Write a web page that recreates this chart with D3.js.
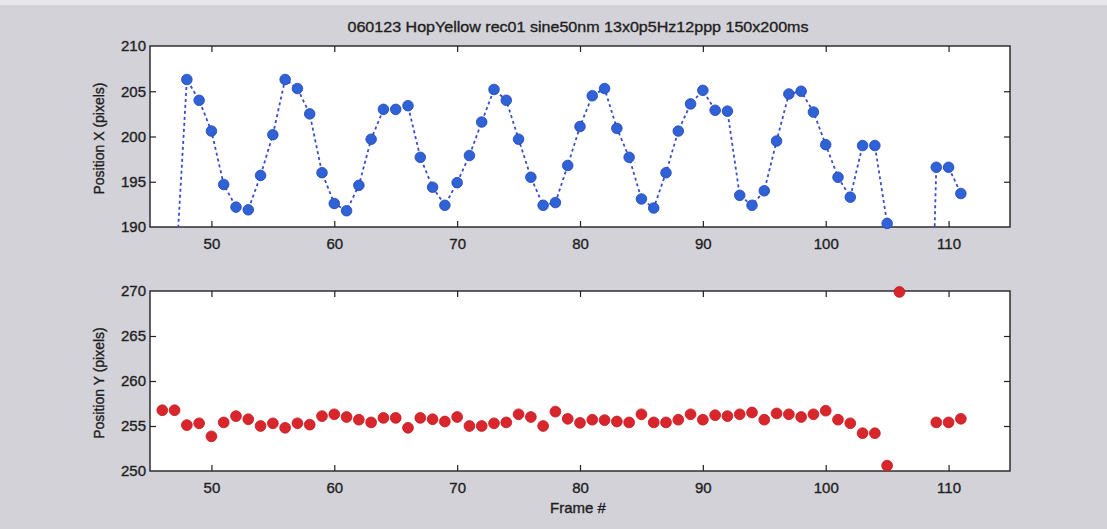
<!DOCTYPE html>
<html>
<head>
<meta charset="utf-8">
<script src="https://cdn.jsdelivr.net/npm/d3@7"></script>
<style>
  body { margin: 0; background: #d3d2d9; }
  svg { display: block; }
  text { font-family: "Liberation Sans", Arial, sans-serif; fill: #1e1e1e; stroke: #1e1e1e; stroke-width: 0.35; }
  .tick line { stroke: #222; stroke-width: 1.2; }
  .tick text { font-size: 15px; }
</style>
</head>
<body>
<svg id="chart"></svg>
<script>
// frame numbers and the two tracked positions (null = no sample / lost)
const frames = [46, 47, 48, 49, 50, 51, 52, 53, 54, 55, 56, 57, 58, 59, 60, 61, 62, 63, 64, 65,
  66, 67, 68, 69, 70, 71, 72, 73, 74, 75, 76, 77, 78, 79, 80, 81, 82, 83, 84, 85,
  86, 87, 88, 89, 90, 91, 92, 93, 94, 95, 96, 97, 98, 99, 100, 101, 102, 103, 104, 105,
  106, 107, 108, 109, 110, 111];

const posX = [182, 183, 206.3, 204.0, 200.6, 194.7, 192.2, 191.9, 195.7, 200.2, 206.3, 205.3, 202.5, 196.0, 192.6, 191.8, 194.6, 199.7, 203.0, 203.0,
  203.4, 197.7, 194.4, 192.4, 194.9, 197.9, 201.6, 205.2, 204.0, 199.7, 195.5, 192.4, 192.7, 196.8, 201.1, 204.5, 205.3, 200.9, 197.7, 193.1,
  192.1, 196.0, 200.6, 203.6, 205.1, 202.9, 202.8, 193.5, 192.4, 194.0, 199.5, 204.7, 205.0, 202.7, 199.1, 195.5, 193.3, 199.0, 199.0, 190.4,
  null, null, 147, 196.6, 196.6, 193.7];

const posY = [256.75, 256.75, 255.1, 255.3, 253.85, 255.4, 256.1, 255.75, 255.0, 255.3, 254.8, 255.3, 255.15, 256.1, 256.3, 256.0, 255.7, 255.4, 255.9, 255.9,
  254.8, 255.9, 255.75, 255.5, 256.0, 255.0, 255.0, 255.3, 255.4, 256.3, 256.0, 255.0, 256.6, 255.8, 255.35, 255.7, 255.65, 255.5, 255.4, 256.3,
  255.4, 255.4, 255.7, 256.3, 255.7, 256.2, 256.1, 256.3, 256.5, 255.7, 256.4, 256.3, 256.0, 256.3, 256.7, 255.7, 255.3, 254.2, 254.2, 250.6,
  269.9, null, null, 255.4, 255.4, 255.8];

const titleText = '060123 HopYellow rec01 sine50nm 13x0p5Hz12ppp 150x200ms';
const xTicks = [50, 60, 70, 80, 90, 100, 110];
const xDomain = [45, 115];
const topDomain = [190, 210];
const topTicks = [190, 195, 200, 205, 210];
const botDomain = [250, 270];
const botTicks = [250, 255, 260, 265, 270];

const W = 1107, H = 529;
const svg = d3.select('#chart').attr('width', W).attr('height', H);

// scanned-paper look: light strip along the top
svg.append('rect').attr('width', W).attr('height', H).attr('fill', '#d3d2d9');
svg.append('rect').attr('width', W).attr('height', 5).attr('fill', '#e6e6ea');

const left = 150, right = 1010;
const x = d3.scaleLinear().domain(xDomain).range([left, right]);

const panels = [
  {key: 'x', vals: posX, top: 46, bottom: 227, domain: topDomain, ticks: topTicks,
   label: 'Position X (pixels)', color: '#2f62d6', stroke: '#1f45b0', line: true},
  {key: 'y', vals: posY, top: 291, bottom: 471, domain: botDomain, ticks: botTicks,
   label: 'Position Y (pixels)', color: '#d9262c', stroke: '#c01a20', line: false}
];

panels.forEach(p => {
  const y = d3.scaleLinear().domain(p.domain).range([p.bottom, p.top]);
  const g = svg.append('g').classed('panel-' + p.key, true);

  g.append('rect').attr('x', left).attr('y', p.top)
    .attr('width', right - left).attr('height', p.bottom - p.top)
    .attr('fill', '#fff');

  // ticks on all four sides, pointing inward
  g.append('g').attr('transform', 'translate(0,' + p.bottom + ')')
    .call(d3.axisBottom(x).tickValues(xTicks).tickSizeInner(-6).tickSizeOuter(0).tickPadding(11));
  g.append('g').attr('transform', 'translate(0,' + p.top + ')')
    .call(d3.axisTop(x).tickValues(xTicks).tickSizeInner(-6).tickSizeOuter(0).tickFormat(''));
  g.append('g').attr('transform', 'translate(' + left + ',0)')
    .call(d3.axisLeft(y).tickValues(p.ticks).tickSizeInner(-6).tickSizeOuter(0).tickPadding(4));
  g.append('g').attr('transform', 'translate(' + right + ',0)')
    .call(d3.axisRight(y).tickValues(p.ticks).tickSizeInner(-6).tickSizeOuter(0).tickFormat(''));
  g.selectAll('.domain').remove();
  // hide the ticks that sit on the box corners
  g.selectAll('.tick line').filter(d => d === p.domain[0] || d === p.domain[1]).remove();

  g.append('rect').attr('x', left).attr('y', p.top)
    .attr('width', right - left).attr('height', p.bottom - p.top)
    .attr('fill', 'none').attr('stroke', '#222').attr('stroke-width', 1.4);

  const pts = frames.map((f, i) => ({f: f, v: p.vals[i]}));

  if (p.line) {
    svg.append('clipPath').attr('id', 'clip-' + p.key)
      .append('rect').attr('x', left).attr('y', p.top)
      .attr('width', right - left).attr('height', p.bottom - p.top);
    const lineGen = d3.line()
      .defined(d => d.v != null)
      .x(d => x(d.f))
      .y(d => y(d.v));
    g.append('path').datum(pts)
      .attr('clip-path', 'url(#clip-' + p.key + ')')
      .attr('d', lineGen)
      .attr('fill', 'none')
      .attr('stroke', '#3a4ccc')
      .attr('stroke-width', 1.8)
      .attr('stroke-dasharray', '3,3');
  }

  const inRange = pts.filter(d => d.v != null && d.v >= p.domain[0] - 0.5 && d.v <= p.domain[1] + 0.5
    && d.f >= xDomain[0] && d.f <= xDomain[1]);
  g.selectAll('.dot').data(inRange).enter().append('circle').classed('dot', true)
    .attr('cx', d => x(d.f))
    .attr('cy', d => y(d.v))
    .attr('r', p.line ? 5.3 : 5.4)
    .attr('fill', p.color)
    .attr('stroke', p.stroke)
    .attr('stroke-width', 0.8);

  svg.append('text')
    .attr('transform', 'translate(104,' + ((p.top + p.bottom) / 2 + 2) + ') rotate(-90)')
    .attr('text-anchor', 'middle')
    .style('font-size', '14px')
    .text(p.label);
});

svg.append('text').attr('x', 578).attr('y', 32)
  .attr('text-anchor', 'middle').style('font-size', '15px')
  .attr('textLength', 461).attr('lengthAdjust', 'spacingAndGlyphs')
  .text(titleText);

svg.append('text').attr('x', 578).attr('y', 513)
  .attr('text-anchor', 'middle').style('font-size', '15px')
  .text('Frame #');
</script>
</body>
</html>
